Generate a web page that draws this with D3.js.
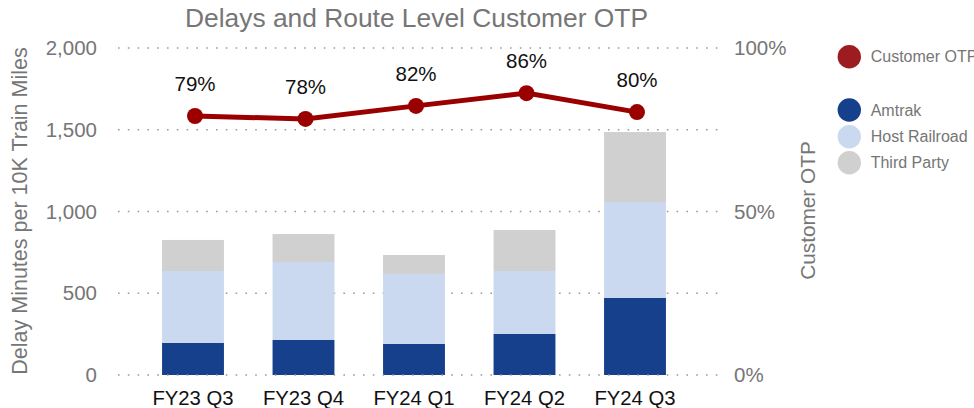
<!DOCTYPE html>
<html>
<head>
<meta charset="utf-8">
<script src="https://cdn.jsdelivr.net/npm/d3@7"></script>
<style>
  body { margin: 0; background: #fff; font-family: "Liberation Sans", Arial, sans-serif; }
</style>
</head>
<body>
<div id="chart"></div>
<script>
// data
const quarters = ['FY23 Q3', 'FY23 Q4', 'FY24 Q1', 'FY24 Q2', 'FY24 Q3'];
const amtrak = [196, 214, 190, 251, 471];
const hostRailroad = [440, 477, 428, 385, 587];
const thirdParty = [190, 171, 116, 251, 428];
const customerOtp = [0.792, 0.783, 0.823, 0.862, 0.804];
const leftTicks = [0, 500, 1000, 1500, 2000];
const rightTicks = [0, 0.5, 1];

const width = 974, height = 408;
const plotTop = 48, plotBottom = 375;

const svg = d3.select('#chart').append('svg')
  .attr('width', width).attr('height', height);

const x = d3.scaleBand().domain(quarters)
  .range([137.75, 690.25]).paddingInner(0.44).paddingOuter(0.22);
const y = d3.scaleLinear().domain([0, 2000]).range([plotBottom, plotTop]);
const y2 = d3.scaleLinear().domain([0, 1]).range([plotBottom, plotTop]);

const grey = '#767676';

// gridlines (behind)
svg.append('g').selectAll('line')
  .data(leftTicks.filter(d => d > 0))
  .join('line')
  .attr('x1', 118).attr('x2', 718)
  .attr('y1', d => y(d)).attr('y2', d => y(d))
  .attr('stroke', '#9a9a9a').attr('stroke-width', 1.6)
  .attr('stroke-dasharray', '1.6,8.2');

// stacked bars
const rows = quarters.map((q, i) => ({ q, amtrak: amtrak[i], host: hostRailroad[i], third: thirdParty[i] }));
const keys = ['amtrak', 'host', 'third'];
const colors = { amtrak: '#163f8c', host: '#cad9f0', third: '#d0d0d0' };
const stack = d3.stack().keys(keys)(rows);

svg.append('g').selectAll('g')
  .data(stack).join('g')
  .attr('fill', d => colors[d.key])
  .selectAll('rect')
  .data(d => d).join('rect')
  .attr('x', d => x(d.data.q))
  .attr('width', x.bandwidth())
  .attr('y', d => y(d[1]))
  .attr('height', d => y(d[0]) - y(d[1]));

// zero line on top
svg.append('line')
  .attr('x1', 118).attr('x2', 718)
  .attr('y1', y(0)).attr('y2', y(0))
  .attr('stroke', '#9a9a9a').attr('stroke-width', 1.6)
  .attr('stroke-dasharray', '1.6,8.2');

// left axis
svg.append('g').selectAll('text')
  .data(leftTicks).join('text')
  .attr('x', 97).attr('y', d => y(d)).attr('dy', '0.35em')
  .attr('text-anchor', 'end').attr('fill', grey)
  .attr('font-size', 20.5)
  .text(d3.format(','));

svg.append('text')
  .attr('transform', 'translate(27,211) rotate(-90)')
  .attr('text-anchor', 'middle').attr('fill', grey)
  .attr('font-size', 21.5)
  .text('Delay Minutes per 10K Train Miles');

// right axis
svg.append('g').selectAll('text')
  .data(rightTicks).join('text')
  .attr('x', 734).attr('y', d => y2(d)).attr('dy', '0.35em')
  .attr('fill', grey).attr('font-size', 20.5)
  .text(d3.format('.0%'));

svg.append('text')
  .attr('transform', 'translate(815,210.5) rotate(-90)')
  .attr('text-anchor', 'middle').attr('fill', grey)
  .attr('font-size', 20.8)
  .text('Customer OTP');

// x axis labels
svg.append('g').selectAll('text')
  .data(quarters).join('text')
  .attr('x', d => x(d) + x.bandwidth() / 2)
  .attr('y', 405)
  .attr('text-anchor', 'middle').attr('fill', '#111')
  .attr('font-size', 20.3)
  .text(d => d);

// OTP line
const lineColor = '#9b0000';
const cx = (d, i) => x(quarters[i]) + x.bandwidth() / 2 + 2;
svg.append('path')
  .datum(customerOtp)
  .attr('fill', 'none').attr('stroke', lineColor).attr('stroke-width', 5)
  .attr('d', d3.line().x(cx).y(d => y2(d)));

svg.append('g').selectAll('circle')
  .data(customerOtp).join('circle')
  .attr('cx', cx).attr('cy', d => y2(d)).attr('r', 8)
  .attr('fill', lineColor);

svg.append('g').selectAll('text')
  .data(customerOtp).join('text')
  .attr('x', cx).attr('y', d => y2(d) - 25)
  .attr('text-anchor', 'middle').attr('fill', '#111')
  .attr('font-size', 20.5)
  .text(d3.format('.0%'));

// title
svg.append('text')
  .attr('x', 416.5).attr('y', 27)
  .attr('text-anchor', 'middle').attr('fill', grey)
  .attr('font-size', 25)
  .attr('textLength', 463).attr('lengthAdjust', 'spacingAndGlyphs')
  .text('Delays and Route Level Customer OTP');

// legend
const legend = [
  { label: 'Customer OTP', color: '#9c1c1f', y: 56.7 },
  { label: 'Amtrak', color: colors.amtrak, y: 110 },
  { label: 'Host Railroad', color: colors.host, y: 136.7 },
  { label: 'Third Party', color: colors.third, y: 162.7 }
];
const lg = svg.append('g').selectAll('g').data(legend).join('g')
  .attr('transform', d => `translate(849.3,${d.y})`);
lg.append('circle').attr('r', 11.7).attr('fill', d => d.color);
lg.append('text').attr('x', 21.4).attr('dy', '0.35em')
  .attr('fill', grey).attr('font-size', 16)
  .text(d => d.label);
</script>
</body>
</html>
